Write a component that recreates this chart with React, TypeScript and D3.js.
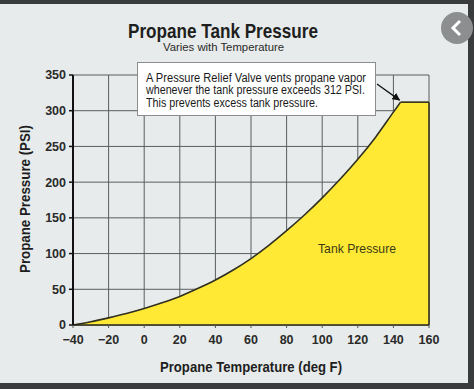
import React from "react";
import * as d3 from "d3";

const temps = [-40, -30, -20, -10, 0, 10, 20, 30, 40, 50, 60, 70, 80, 90, 100, 110, 120, 130, 140, 144];
const pressures = [0, 4.5, 10, 16, 23, 31, 40, 51, 63, 77, 93, 111.5, 132, 154, 178, 204, 232, 263, 298, 312];
const flatTemps = [144, 160];
const flatPressures = [312, 312];
const xTicks = [-40, -20, 0, 20, 40, 60, 80, 100, 120, 140, 160];
const yTicks = [0, 50, 100, 150, 200, 250, 300, 350];
const noteLines = [
  "A Pressure Relief Valve vents propane vapor",
  "whenever the tank pressure exceeds 312 PSI.",
  "This prevents excess tank pressure.",
];
const noteWidths = [220, 219, 172];

const W = 474;
const H = 389;
const FONT = "'Liberation Sans', Arial, sans-serif";

export default function App() {
  const x = d3.scaleLinear().domain([-40, 160]).range([73, 429]);
  const y = d3.scaleLinear().domain([0, 350]).range([325, 75]);

  const curvePts = temps.map((t, i) => [t, pressures[i]] as [number, number]);
  const flatPts = flatTemps.map((t, i) => [t, flatPressures[i]] as [number, number]);

  const areaCurve = d3
    .area<[number, number]>()
    .x((d) => x(d[0]))
    .y0(y(0))
    .y1((d) => y(d[1]))
    .curve(d3.curveMonotoneX);
  const areaFlat = d3
    .area<[number, number]>()
    .x((d) => x(d[0]))
    .y0(y(0))
    .y1((d) => y(d[1]));
  const lineCurve = d3
    .line<[number, number]>()
    .x((d) => x(d[0]))
    .y((d) => y(d[1]))
    .curve(d3.curveMonotoneX);
  const lineFlat = d3
    .line<[number, number]>()
    .x((d) => x(d[0]))
    .y((d) => y(d[1]));

  const last = flatPts[flatPts.length - 1];
  const peak = curvePts[curvePts.length - 1];
  const adj = "spacingAndGlyphs";
  const YELLOW = "#ffe935";

  return (
    <svg
      width={W}
      height={H}
      style={{ position: "absolute", left: 0, top: 0, display: "block" }}
    >
      <defs>
        <marker id="arr" viewBox="0 0 10 10" refX="9" refY="5" markerWidth="6" markerHeight="6" orient="auto">
          <path d="M0,0 L10,5 L0,10 z" fill="#111" />
        </marker>
      </defs>
      {/* frame */}
      <rect x={0} y={0} width={W} height={H} fill="#3a3b3c" />
      <rect x={0} y={4} width={468} height={379} fill="#e7ebeb" />

      {/* grid */}
      {yTicks.map((v) => (
        <line key={"gy" + v} x1={x(-40)} x2={x(160)} y1={y(v)} y2={y(v)} stroke="#5a5d5f" strokeWidth={1} />
      ))}
      {xTicks.map((v) => (
        <line key={"gx" + v} x1={x(v)} x2={x(v)} y1={y(0)} y2={y(350)} stroke="#5a5d5f" strokeWidth={1} />
      ))}

      {/* area */}
      <path d={areaCurve(curvePts) || ""} fill={YELLOW} stroke={YELLOW} strokeWidth={0.8} />
      <path d={areaFlat(flatPts) || ""} fill={YELLOW} stroke={YELLOW} strokeWidth={0.8} />
      <path d={lineCurve(curvePts) || ""} fill="none" stroke="#2f2f22" strokeWidth={1.6} />
      <path d={lineFlat(flatPts) || ""} fill="none" stroke="#2f2f22" strokeWidth={1.6} />
      <line x1={x(last[0])} x2={x(last[0])} y1={y(last[1])} y2={y(0)} stroke="#2f2f22" strokeWidth={1.6} />

      {/* axes */}
      <line x1={x(-40)} x2={x(-40)} y1={y(0)} y2={y(350)} stroke="#111" strokeWidth={2} />
      <line x1={x(-40)} x2={x(160)} y1={y(0)} y2={y(0)} stroke="#222" strokeWidth={1.5} />
      {yTicks.map((v) => (
        <line key={"ty" + v} x1={x(-40) - 4} x2={x(-40)} y1={y(v)} y2={y(v)} stroke="#111" strokeWidth={1.5} />
      ))}
      {xTicks.map((v) => (
        <line key={"tx" + v} x1={x(v)} x2={x(v)} y1={y(0)} y2={y(0) + 3} stroke="#555" strokeWidth={1} />
      ))}
      {yTicks.map((v) => (
        <text key={"ly" + v} x={66} y={y(v)} dy="0.35em" textAnchor="end" fontFamily={FONT} fontWeight="bold" fontSize={12.5} fill="#2a2a2a">
          {v}
        </text>
      ))}
      {xTicks.map((v) => (
        <text key={"lx" + v} x={x(v)} y={340} dy="0.35em" textAnchor="middle" fontFamily={FONT} fontWeight="bold" fontSize={12.5} fill="#2a2a2a">
          {v < 0 ? "\u2212" + Math.abs(v) : v}
        </text>
      ))}

      {/* titles */}
      <text x={128} y={38} textLength={190} lengthAdjust={adj} fontFamily={FONT} fontWeight="bold" fontSize={21} fill="#1e1e1e">
        Propane Tank Pressure
      </text>
      <text x={163} y={51} textLength={121} lengthAdjust={adj} fontFamily={FONT} fontSize={11.5} fill="#2a2a2a">
        Varies with Temperature
      </text>
      <text x={160} y={367} dy="0.35em" textLength={182} lengthAdjust={adj} fontFamily={FONT} fontWeight="bold" fontSize={15} fill="#1e1e1e">
        Propane Temperature (deg F)
      </text>
      <text
        transform={`translate(25,273) rotate(-90)`}
        dy="0.35em"
        textLength={148}
        lengthAdjust={adj}
        fontFamily={FONT}
        fontWeight="bold"
        fontSize={15}
        fill="#1e1e1e"
      >
        Propane Pressure (PSI)
      </text>
      <text x={318} y={248} dy="0.35em" textLength={78} lengthAdjust={adj} fontFamily={FONT} fontSize={13.5} fill="#3c3a14">
        Tank Pressure
      </text>

      {/* annotation */}
      <rect x={137.5} y={62.5} width={238} height={53} fill="#ffffff" stroke="#8a8c8e" strokeWidth={1} />
      {noteLines.map((s, i) => (
        <text key={"n" + i} x={146} y={77.5 + i * 12.5} dy="0.35em" textLength={noteWidths[i]} lengthAdjust={adj} fontFamily={FONT} fontSize={12.5} fill="#1a1a1a">
          {s}
        </text>
      ))}
      <line x1={377} y1={84} x2={x(peak[0]) - 1} y2={y(peak[1]) - 2} stroke="#111" strokeWidth={1.3} markerEnd="url(#arr)" />

      {/* UI button */}
      <circle cx={457} cy={28} r={16} fill="#8d8e8f" />
      <path d="M460,21 L453,28 L460,35" fill="none" stroke="#ffffff" strokeWidth={3} />
    </svg>
  );
}
